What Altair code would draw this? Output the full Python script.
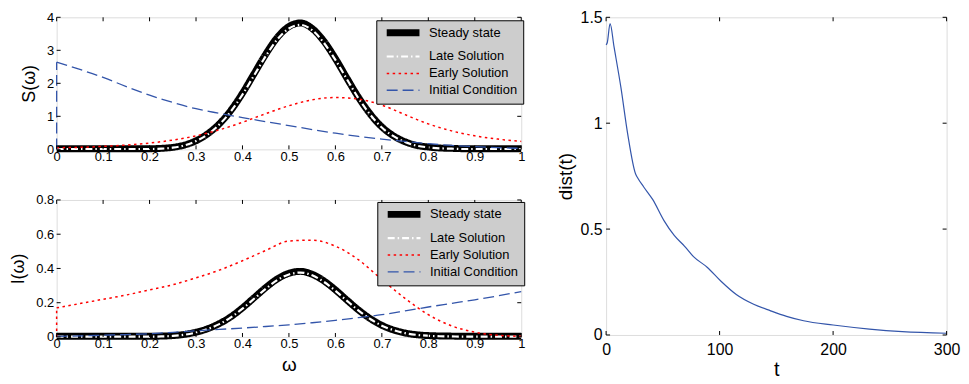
import altair as alt
import pandas as pd

# ---------------- data ----------------
SERIES = ["Steady state", "Late Solution", "Early Solution", "Initial Condition"]

omega_fine = [0.0, 0.025, 0.05, 0.075, 0.1, 0.125, 0.15, 0.175, 0.2, 0.225,
              0.25, 0.275, 0.3, 0.325, 0.35, 0.375, 0.4, 0.425, 0.45, 0.475,
              0.5, 0.525, 0.55, 0.575, 0.6, 0.625, 0.65, 0.675, 0.7, 0.725,
              0.75, 0.775, 0.8, 0.825, 0.85, 0.875, 0.9, 0.925, 0.95, 0.975, 1.0]
omega_coarse = [0.0, 0.05, 0.1, 0.15, 0.2, 0.25, 0.3, 0.35, 0.4, 0.45, 0.5,
                0.55, 0.6, 0.65, 0.7, 0.75, 0.8, 0.85, 0.9, 0.95, 1.0]

S_steady = [0.02, 0.02, 0.02, 0.02, 0.02, 0.02, 0.02, 0.02, 0.02, 0.03,
            0.06, 0.13, 0.26, 0.47, 0.77, 1.18, 1.70, 2.29, 2.88, 3.39,
            3.72, 3.83, 3.66, 3.28, 2.75, 2.15, 1.57, 1.07, 0.68, 0.41,
            0.23, 0.12, 0.07, 0.04, 0.03, 0.02, 0.02, 0.02, 0.02, 0.02, 0.02]
S_late = [0.01, 0.01, 0.01, 0.01, 0.01, 0.01, 0.01, 0.01, 0.01, 0.02,
          0.05, 0.12, 0.25, 0.45, 0.75, 1.15, 1.66, 2.24, 2.82, 3.33,
          3.66, 3.77, 3.61, 3.23, 2.71, 2.12, 1.54, 1.05, 0.66, 0.40,
          0.22, 0.11, 0.06, 0.03, 0.02, 0.01, 0.01, 0.01, 0.01, 0.01, 0.01]
S_early = [0.05, 0.06, 0.09, 0.13, 0.19, 0.28, 0.41, 0.59, 0.82, 1.08, 1.32,
           1.50, 1.57, 1.52, 1.34, 1.05, 0.77, 0.56, 0.41, 0.31, 0.24]
S_initial = [2.64, 2.42, 2.18, 1.90, 1.64, 1.42, 1.23, 1.09, 0.96, 0.84, 0.72,
             0.60, 0.49, 0.39, 0.31, 0.24, 0.17, 0.12, 0.08, 0.05, 0.03]

I_steady = [0.004, 0.004, 0.004, 0.004, 0.004, 0.004, 0.004, 0.004, 0.004, 0.005,
            0.008, 0.015, 0.028, 0.048, 0.078, 0.118, 0.170, 0.229, 0.288, 0.339,
            0.372, 0.383, 0.366, 0.328, 0.275, 0.215, 0.157, 0.107, 0.068, 0.041,
            0.023, 0.013, 0.008, 0.006, 0.005, 0.004, 0.004, 0.004, 0.004, 0.004, 0.004]
I_late = [0.002, 0.002, 0.002, 0.002, 0.002, 0.002, 0.002, 0.002, 0.002, 0.003,
          0.006, 0.013, 0.026, 0.046, 0.075, 0.114, 0.165, 0.223, 0.281, 0.332,
          0.365, 0.376, 0.360, 0.322, 0.270, 0.211, 0.154, 0.105, 0.066, 0.040,
          0.022, 0.012, 0.007, 0.004, 0.003, 0.002, 0.002, 0.002, 0.002, 0.002, 0.002]
I_early = [0.17, 0.195, 0.22, 0.245, 0.275, 0.305, 0.345, 0.39, 0.445, 0.505, 0.56,
           0.565, 0.53, 0.45, 0.335, 0.225, 0.13, 0.065, 0.028, 0.01, 0.004]
I_initial = [0.003, 0.006, 0.01, 0.014, 0.019, 0.027, 0.036, 0.044, 0.052, 0.061, 0.071,
             0.083, 0.097, 0.113, 0.13, 0.152, 0.175, 0.196, 0.217, 0.24, 0.265]

t_vals = [0, 1, 3.5, 7, 13, 19, 26, 28, 33, 41, 51, 60, 69, 77, 89, 101,
          115, 130, 145, 159, 174, 200, 232, 261, 300]
dist_vals = [1.37, 1.38, 1.47, 1.36, 1.17, 0.95, 0.76, 0.74, 0.70, 0.64, 0.54,
             0.47, 0.42, 0.37, 0.32, 0.255, 0.19, 0.145, 0.114, 0.088, 0.067,
             0.047, 0.028, 0.016, 0.008]

omega_ticks = [0, 0.1, 0.2, 0.3, 0.4, 0.5, 0.6, 0.7, 0.8, 0.9, 1]
S_ticks = [0, 1, 2, 3, 4]
I_ticks = [0, 0.2, 0.4, 0.6, 0.8]
t_ticks = [0, 100, 200, 300]
dist_ticks = [0, 0.5, 1, 1.5]

# ---------------- styling ----------------
BLUE = "#3355aa"
COLORS = ["#000000", "#ffffff", "#ff0000", BLUE]
DASHES = [[1, 0], [7, 3, 1.5, 3], [2.5, 3.5], [11, 5]]
WIDTHS = [7, 2.2, 1.5, 1.3]
FONT = "Liberation Sans"
TICK = 4


def make_axis(values, title, lpad, lsize, tsize, tpad):
    return alt.Axis(values=values, format="~f", title=title, ticks=False,
                    domain=False, grid=False, labelFlush=False, labelPadding=lpad,
                    labelFontSize=lsize, labelFont=FONT, labelColor="black",
                    titleFont=FONT, titleFontSize=tsize, titleFontWeight="normal",
                    titleColor="black", titlePadding=tpad)


def tick_layers(xticks, yticks, W, H, xname, yname, xs, ys, xaxis, yaxis):
    xt = pd.DataFrame({xname: xticks})
    yt = pd.DataFrame({yname: yticks})
    X = alt.X(f"{xname}:Q", scale=xs, axis=xaxis)
    Y = alt.Y(f"{yname}:Q", scale=ys, axis=yaxis)
    rule = dict(color="black", strokeWidth=1)
    return [
        alt.Chart(xt).mark_rule(**rule).encode(x=X, y=alt.value(H), y2=alt.value(H - TICK)),
        alt.Chart(xt).mark_rule(**rule).encode(x=X, y=alt.value(0), y2=alt.value(TICK)),
        alt.Chart(yt).mark_rule(**rule).encode(y=Y, x=alt.value(0), x2=alt.value(TICK)),
        alt.Chart(yt).mark_rule(**rule).encode(y=Y, x=alt.value(W - TICK), x2=alt.value(W)),
    ]


def left_panel(df, ydom, yticks, ytitle, H, xtitle, legx, legy, vline):
    W = 468
    xs = alt.Scale(domain=[0, 1], nice=False)
    ys = alt.Scale(domain=ydom, nice=False)
    xaxis = make_axis(omega_ticks, xtitle, 1, 13, 19, 5)
    yaxis = make_axis(yticks, ytitle, 3, 13, 18, 8.5)
    # stroke symbol: 4px layout box, path drawn 33px long starting at the box's left edge
    leg = alt.Legend(title=None, orient="none", legendX=legx, legendY=legy,
                     fillColor="#cdcdcd", strokeColor="black", padding=6,
                     labelFontSize=13, labelFont=FONT, labelColor="black",
                     symbolType="M-1,0H15.5", symbolSize=16, rowPadding=3,
                     labelOffset=34)
    color = alt.Color("series:N", scale=alt.Scale(domain=SERIES, range=COLORS), legend=leg)
    dash = alt.StrokeDash("series:N", scale=alt.Scale(type="ordinal", domain=SERIES, range=DASHES), legend=leg)
    width = alt.StrokeWidth("series:N", scale=alt.Scale(type="ordinal", domain=SERIES, range=WIDTHS), legend=leg)

    layers = []
    for name in SERIES:
        layers.append(
            alt.Chart(df).transform_filter(alt.datum.series == name)
            .mark_line(interpolate="monotone")
            .encode(x=alt.X("w:Q", scale=xs, axis=xaxis),
                    y=alt.Y("val:Q", scale=ys, axis=yaxis),
                    color=color, strokeDash=dash, strokeWidth=width,
                    order="i:Q")
        )
    vdf = pd.DataFrame({"w": [0.0], "val": [0.0], "hi": [vline[1]]})
    vidx = SERIES.index(vline[0])
    layers.append(
        alt.Chart(vdf).mark_rule(color=COLORS[vidx], strokeDash=DASHES[vidx],
                                 strokeWidth=WIDTHS[vidx])
        .encode(x=alt.X("w:Q", scale=xs, axis=xaxis),
                y=alt.Y("val:Q", scale=ys, axis=yaxis), y2="hi:Q")
    )
    layers += tick_layers(omega_ticks, yticks, W, H, "w", "val", xs, ys, xaxis, yaxis)
    return alt.layer(*layers).properties(width=W, height=H)


dfS = pd.DataFrame([{"w": x, "val": y, "series": n, "i": i}
                    for n, xs_, ys_ in [("Steady state", omega_fine, S_steady),
                                        ("Late Solution", omega_fine, S_late),
                                        ("Early Solution", omega_coarse, S_early),
                                        ("Initial Condition", omega_coarse, S_initial)]
                    for i, (x, y) in enumerate(zip(xs_, ys_))])
dfI = pd.DataFrame([{"w": x, "val": y, "series": n, "i": i}
                    for n, xs_, ys_ in [("Steady state", omega_fine, I_steady),
                                        ("Late Solution", omega_fine, I_late),
                                        ("Early Solution", omega_coarse, I_early),
                                        ("Initial Condition", omega_coarse, I_initial)]
                    for i, (x, y) in enumerate(zip(xs_, ys_))])

top = left_panel(dfS, [0, 4], S_ticks, "S(ω)", 133, None, 322, 3,
                 ("Initial Condition", S_initial[0]))
bottom = left_panel(dfI, [0, 0.8], I_ticks, "I(ω)", 138, "ω", 323, 2,
                    ("Early Solution", I_early[0]))

left = alt.vconcat(top, bottom, spacing=29).resolve_scale(
    color="independent", strokeDash="independent", strokeWidth="independent")

# right panel
RW, RH = 343, 320
dfd = pd.DataFrame({"t": t_vals, "d": dist_vals})
txs = alt.Scale(domain=[0, 300], nice=False)
tys = alt.Scale(domain=[0, 1.5], nice=False)
taxis = make_axis(t_ticks, "t", 7, 16, 20, 2)
daxis = make_axis(dist_ticks, "dist(t)", 4, 16, 19, 5)
right_line = alt.Chart(dfd).mark_line(color=BLUE, strokeWidth=1.2, interpolate="monotone").encode(
    x=alt.X("t:Q", scale=txs, axis=taxis),
    y=alt.Y("d:Q", scale=tys, axis=daxis),
)
right = alt.layer(right_line, *tick_layers(t_ticks, dist_ticks, RW, RH, "t", "d",
                                           txs, tys, taxis, daxis)).properties(
    width=RW, height=RH)

chart = alt.hconcat(left, right, spacing=19.5).properties(
    padding={"left": 0, "top": -1, "right": 0, "bottom": 0}
).configure_view(stroke="black", strokeWidth=1.2).configure(background="white")

chart.save("out.html", embed_options={"renderer": "svg", "actions": False})
